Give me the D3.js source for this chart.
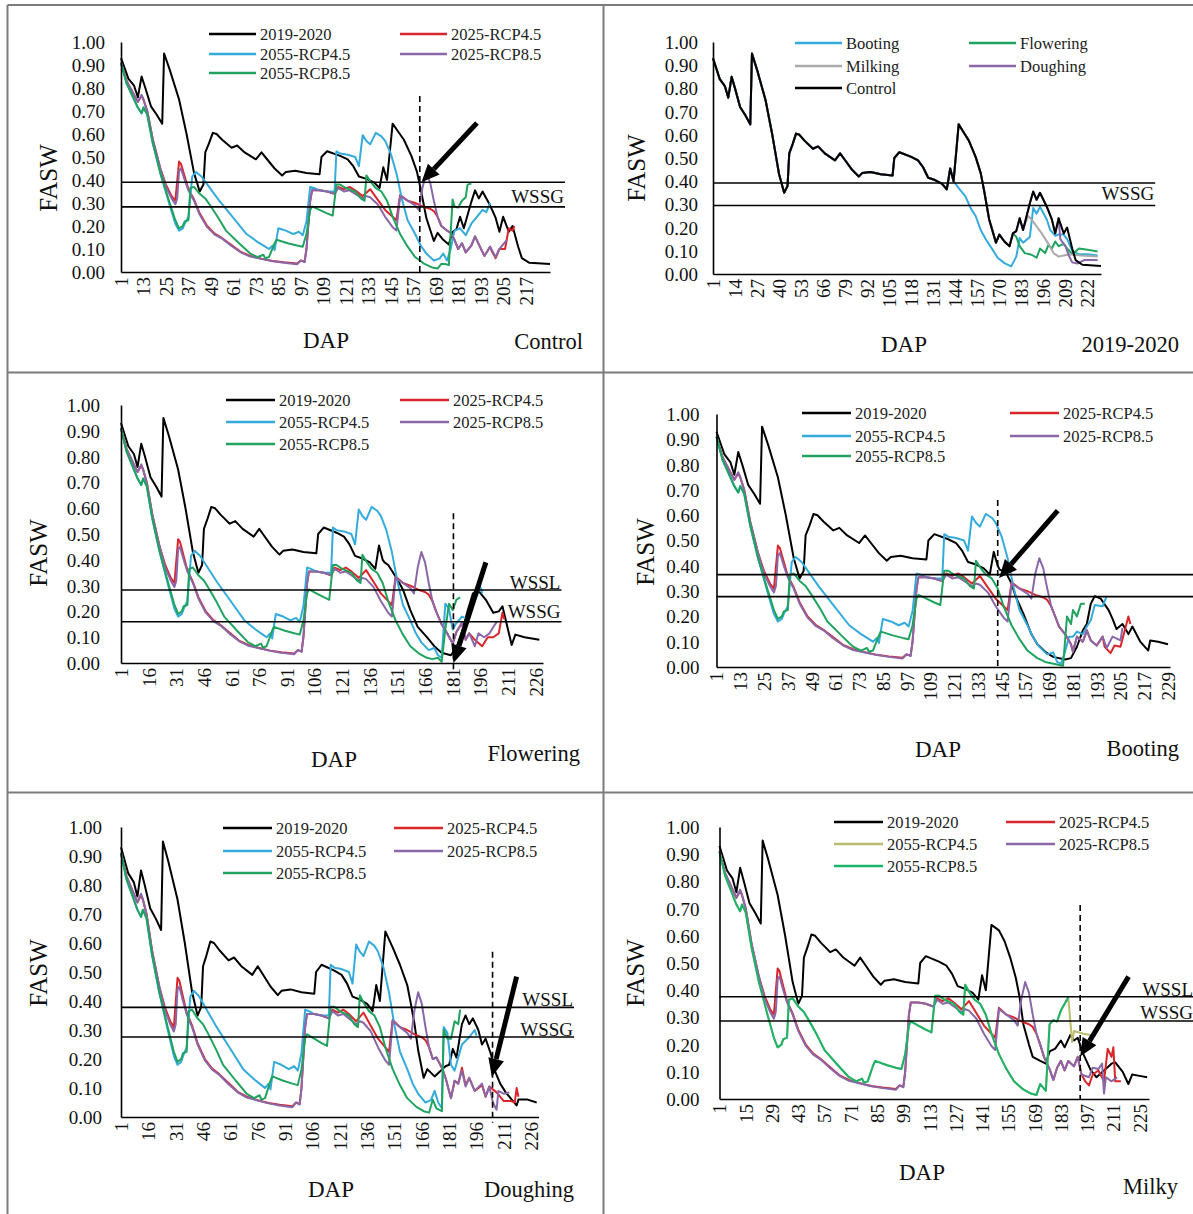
<!DOCTYPE html>
<html>
<head>
<meta charset="utf-8">
<script src="https://cdn.jsdelivr.net/npm/d3@7"></script>
<style>
  html, body { margin: 0; padding: 0; background: #fff; }
  svg { display: block; font-family: "Liberation Serif", "Times New Roman", serif; }
</style>
</head>
<body>
<svg id="chart" width="1193" height="1214"></svg>
<script>
// ---------- tick labels ----------
const yTicks = [0, 0.1, 0.2, 0.3, 0.4, 0.5, 0.6, 0.7, 0.8, 0.9, 1.0];
const ticksControl = [1, 13, 25, 37, 49, 61, 73, 85, 97, 109, 121, 133, 145, 157, 169, 181, 193, 205, 217];
const ticks2019 = [1, 14, 27, 40, 53, 66, 79, 92, 105, 118, 131, 144, 157, 170, 183, 196, 209, 222];
const ticksFlower = [1, 16, 31, 46, 61, 76, 91, 106, 121, 136, 151, 166, 181, 196, 211, 226];
const ticksBoot = [1, 13, 25, 37, 49, 61, 73, 85, 97, 109, 121, 133, 145, 157, 169, 181, 193, 205, 217, 229];
const ticksDough = [1, 16, 31, 46, 61, 76, 91, 106, 121, 136, 151, 166, 181, 196, 211, 226];
const ticksMilky = [1, 15, 29, 43, 57, 71, 85, 99, 113, 127, 141, 155, 169, 183, 197, 211, 225];

// ---------- FASW series, [DAP, value] ----------
// 2019-2020 (control), common part
const ctlHead = [[1,.93],[5,.84],[8,.81],[10,.76],[12,.85],[14,.80],[17,.72],[20,.685],[23,.645],[24,.95],[27,.88],[32,.75],[36,.60],[40,.43],[43,.35],[45,.38],[46,.52],[48,.56],[50,.605],[52,.60],[55,.575],[60,.54],[63,.55],[67,.52],[73,.49],[76,.52],[78,.50],[83,.45],[87,.42],[89,.435],[94,.44],[100,.43],[107,.425],[108,.50],[111,.525],[118,.505],[122,.49],[125,.46],[128,.415],[132,.405],[136,.39],[139,.365],[141,.455],[143,.40]];
const ctlTailControl = [[146,.645],[149,.61],[152,.575],[156,.505],[159,.435],[161,.36],[164,.235],[167,.16],[168,.135],[170,.17],[173,.14],[176,.12],[178,.175],[180,.185],[182,.24],[184,.19],[188,.305],[190,.355],[192,.32],[194,.35],[198,.29],[201,.235],[203,.175],[205,.24],[208,.175],[210,.20],[213,.11],[215,.06],[219,.04],[230,.035]];
const ctlTailFlower = [[144,.39],[146,.38],[150,.335],[154,.285],[158,.205],[162,.14],[167,.10],[171,.065],[175,.04],[180,.03],[183,.06],[186,.12],[189,.20],[192,.27],[195,.28],[199,.245],[203,.195],[206,.20],[208,.22],[211,.13],[213,.07],[215,.11],[220,.10],[228,.09]];
const ctlTailBoot = [[144,.385],[147,.375],[150,.33],[152,.28],[156,.21],[160,.13],[163,.09],[167,.06],[171,.04],[177,.03],[180,.035],[183,.08],[186,.145],[188,.17],[190,.25],[192,.28],[195,.27],[199,.225],[201,.19],[203,.15],[206,.17],[209,.13],[211,.16],[215,.10],[219,.065],[220,.105],[224,.10],[229,.09]];
const ctlTailDough = [[146,.64],[150,.585],[154,.525],[158,.455],[160,.39],[162,.32],[164,.23],[167,.135],[169,.165],[173,.14],[179,.175],[181,.18],[183,.235],[185,.205],[188,.32],[190,.35],[192,.32],[194,.34],[197,.30],[199,.25],[201,.27],[204,.215],[206,.16],[209,.115],[212,.085],[216,.055],[218,.04],[219,.06],[224,.06],[229,.05]];
const ctlTailMilky = [[146,.64],[150,.62],[153,.58],[156,.52],[159,.445],[161,.375],[163,.275],[166,.20],[168,.155],[172,.14],[175,.13],[177,.175],[180,.185],[183,.215],[185,.19],[188,.235],[190,.215],[192,.225],[195,.165],[199,.105],[202,.08],[206,.105],[210,.13],[212,.135],[216,.10],[219,.055],[221,.09],[225,.085],[229,.08]];

// 2025-RCP4.5
const r45Head = [[1,.91],[4,.83],[8,.77],[10,.74],[12,.765],[13,.75],[15,.70],[18,.575],[22,.45],[25,.38],[28,.33],[30,.31],[32,.48],[33,.47],[35,.415],[37,.36],[40,.315],[43,.255],[47,.20],[51,.167],[55,.147],[60,.117],[65,.087],[70,.07],[76,.058],[82,.048],[88,.042],[95,.037],[97,.05],[99,.045],[100,.10],[102,.31],[103,.355],[107,.355],[111,.35],[115,.34],[117,.37],[120,.36],[123,.37],[126,.355],[130,.33],[132,.345],[134,.36],[138,.315],[142,.27],[146,.24],[148,.225],[150,.335],[154,.31],[158,.30],[162,.285],[166,.275],[168,.265],[170,.24],[172,.20]];
const r45TailControl = [[199,.09],[201,.06],[203,.10],[206,.10],[208,.19],[210,.18],[211,.20]];
const r45TailFlower = [[193,.09],[197,.065],[200,.10],[203,.10],[206,.115],[208,.195],[209,.17]];
const r45TailBoot = [[197,.08],[200,.055],[202,.085],[205,.08],[208,.17],[209,.20],[210,.17]];
const r45TailDough = [[188,.17],[190,.11],[192,.135],[195,.09],[199,.11],[201,.07],[203,.105],[207,.085],[211,.055],[215,.055],[217,.05],[218,.10],[219,.07]];
const r45TailMilky = [[196,.065],[198,.05],[200,.09],[203,.105],[206,.065],[208,.185],[210,.155],[211,.19],[212,.065],[215,.065]];

// 2025-RCP8.5
const r85Head = [[1,.91],[4,.83],[8,.77],[10,.74],[12,.77],[13,.75],[15,.70],[18,.575],[22,.45],[25,.37],[28,.32],[30,.295],[31,.32],[32,.44],[33,.45],[35,.40],[37,.355],[40,.31],[43,.25],[47,.195],[51,.163],[55,.145],[60,.113],[65,.085],[70,.067],[76,.057],[82,.047],[88,.04],[95,.034],[97,.05],[99,.043],[100,.10],[102,.31],[103,.355],[107,.355],[111,.35],[115,.34],[117,.365],[120,.35],[123,.355],[126,.34],[130,.32],[132,.33],[134,.325],[138,.295],[142,.24],[146,.195],[148,.18],[150,.33],[154,.31],[158,.29],[160,.27],[162,.37],[164,.43],[166,.39],[168,.31],[170,.24],[172,.20]];
const r85TailControl = [[175,.18],[177,.17],[179,.14],[181,.10],[183,.125],[185,.085],[188,.115],[190,.155],[192,.12],[195,.07],[198,.11],[201,.065],[203,.10],[206,.13],[207,.14]];
const r85TailFlower = [[175,.15],[178,.115],[181,.075],[183,.12],[186,.155],[188,.09],[190,.115],[193,.065],[195,.115],[198,.10],[201,.115],[203,.14],[205,.16]];
const r85TailBoot = [[174,.16],[177,.13],[180,.09],[181,.06],[183,.12],[186,.10],[188,.145],[190,.105],[193,.085],[196,.12],[198,.075],[201,.12],[205,.105],[206,.155]];
const r85TailDough = [[174,.205],[177,.17],[179,.135],[182,.065],[184,.125],[186,.115],[188,.16],[190,.105],[192,.135],[195,.09],[199,.115],[201,.07],[203,.105],[205,.05],[207,.025],[208,.09],[211,.08],[214,.085]];
const r85TailMilky = [[174,.155],[177,.11],[179,.07],[181,.115],[183,.14],[185,.105],[187,.14],[190,.12],[192,.155],[194,.09],[198,.08],[200,.115],[203,.11],[205,.13],[206,.02],[207,.08],[210,.065],[213,.08]];

// 2055-RCP4.5
const c45Head = [[1,.91],[4,.82],[8,.75],[10,.715],[12,.69],[13,.715],[15,.685],[18,.56],[22,.43],[27,.29],[30,.21],[32,.18],[34,.19],[35,.21],[37,.24],[39,.415],[41,.435],[44,.415],[48,.37],[53,.315],[60,.245],[68,.165],[74,.13],[78,.11],[80,.10],[82,.115],[83,.095],[85,.19],[89,.18],[93,.165],[96,.175],[98,.16],[100,.22],[102,.37],[104,.365],[107,.355],[111,.35],[115,.35],[116,.525],[118,.515],[122,.51],[126,.50],[128,.46],[130,.595],[132,.57],[134,.555],[137,.605],[140,.59],[142,.57],[145,.515],[148,.43],[151,.315],[154,.225],[158,.165],[161,.115],[164,.08],[168,.05],[171,.058]];
const c45TailControl = [[173,.08],[175,.05],[177,.10],[179,.18],[182,.19],[185,.16],[188,.21],[191,.24],[194,.27],[196,.26],[198,.30]];
const c45TailFlower = [[173,.03],[175,.02],[177,.23],[179,.21],[181,.13],[183,.155],[186,.18],[189,.17],[192,.22],[194,.26],[196,.295],[197,.27]];
const c45TailBoot = [[173,.02],[175,.013],[177,.06],[179,.12],[181,.12],[183,.14],[186,.13],[188,.16],[190,.185],[192,.245],[196,.24],[198,.28]];
const c45TailDough = [[173,.09],[175,.05],[177,.03],[178,.31],[180,.29],[182,.18],[184,.16],[186,.205],[188,.25],[192,.275],[195,.30],[196,.28]];
const c45TailMilky = [[187,.37],[188,.29],[189,.21],[190,.25],[195,.24],[199,.235]];

// 2055-RCP8.5
const c85Head = [[1,.91],[4,.82],[8,.75],[10,.715],[12,.69],[13,.715],[15,.685],[18,.56],[22,.43],[27,.30],[30,.225],[32,.19],[34,.20],[35,.22],[37,.225],[38,.365],[40,.37],[43,.34],[46,.32],[49,.285],[53,.235],[57,.18],[64,.125],[70,.08],[74,.065],[77,.075],[78,.06],[80,.065],[83,.125],[84,.14],[90,.125],[95,.115],[98,.11],[100,.165],[102,.27],[103,.285],[107,.27],[111,.255],[114,.245],[116,.38],[118,.38],[121,.365],[126,.35],[129,.32],[131,.31],[132,.42],[134,.395],[137,.365],[140,.35],[143,.31],[146,.24],[150,.165],[154,.11],[158,.065],[163,.035],[167,.02],[170,.015]];
const c85TailControl = [[172,.035],[174,.035],[176,.03],[178,.315],[179,.285],[181,.28],[183,.31],[185,.325],[186,.38],[188,.385]];
const c85TailFlower = [[173,.02],[175,.005],[177,.13],[179,.23],[181,.205],[183,.245],[185,.255]];
const c85TailBoot = [[173,.01],[176,.005],[178,.20],[180,.17],[181,.225],[183,.20],[185,.25],[187,.25]];
const c85TailDough = [[172,.06],[174,.03],[177,.02],[178,.30],[180,.27],[182,.27],[184,.33],[186,.32],[187,.37]];
const c85TailMilky = [[172,.055],[175,.03],[177,.275],[179,.29],[181,.285],[183,.325],[185,.35],[187,.375]];

// 2019-2020 panel: stress at each stage
const bootTail = [[146,.37],[150,.335],[153,.285],[156,.25],[159,.19],[162,.15],[166,.105],[169,.07],[173,.047],[177,.033],[180,.075],[182,.155],[184,.135],[188,.16],[190,.285],[192,.26],[194,.29],[198,.235],[200,.19],[203,.165],[205,.17],[208,.17],[210,.15],[213,.10],[217,.085],[222,.085],[228,.08]];
const flowerTail = [[180,.16],[182,.12],[185,.09],[189,.083],[192,.07],[194,.11],[197,.09],[199,.125],[201,.11],[203,.14],[205,.12],[208,.13],[210,.11],[213,.085],[217,.11],[222,.105],[228,.097]];
const milkTail = [[187,.25],[189,.235],[192,.205],[195,.175],[199,.13],[202,.09],[205,.075],[208,.08],[212,.085],[218,.08],[228,.075]];
const doughTail = [[206,.15],[209,.12],[211,.08],[213,.05],[216,.045],[220,.06],[228,.06]];

// a series follows its base until the first DAP of its own tail
function splice(base, tail) {
  return base.filter(d => d[0] < tail[0][0]).concat(tail);
}

const C = {
  black: '#000000', red: '#d8262b', cyan: '#35abdc', purple: '#8a67a8',
  green: '#20a35e', gray: '#ababab', olive: '#b9bc6c', green2: '#1cb46c'
};

function scenarioSeries(ctlTail, r45T, r85T, c45T, c85T, milky) {
  const r85 = splice(r85Head, r85T);
  const c85 = splice(c85Head, c85T);
  return [
    { name: '2019-2020', color: C.black, data: splice(ctlHead, ctlTail) },
    { name: '2025-RCP4.5', color: C.red, data: splice(splice(r45Head, r85T), r45T) },
    { name: '2055-RCP4.5', color: milky ? C.olive : C.cyan, data: milky ? splice(c85, c45T) : splice(c45Head, c45T) },
    { name: '2025-RCP8.5', color: C.purple, data: r85 },
    { name: '2055-RCP8.5', color: milky ? C.green2 : C.green, data: c85 }
  ];
}

const ctlFull = splice(ctlHead, ctlTailControl);

const panels = [
  { series: scenarioSeries(ctlTailControl, r45TailControl, r85TailControl, c45TailControl, c85TailControl),
    xr: [121, 550], yr: [272, 42], ticks: ticksControl, yGap: 16,
    refs: [.39, .283], refEnd: 238, refLabels: [['WSSG', .283, 4]],
    stage: { dap: 160.5, top: .765, bottom: 0, from: [191, .648], to: [161.4, .39] },
    legend: { cols: [209, 400], rows: [34, 54, 73], len: 47 },
    title: ['Control', 583, 349], dap: [326, 348], fasw: [48, 178] },
  { series: [
      { name: 'Booting', color: C.cyan, data: splice(ctlHead, bootTail) },
      { name: 'Flowering', color: C.green, data: splice(ctlFull, flowerTail) },
      { name: 'Milking', color: C.gray, data: splice(ctlFull, milkTail) },
      { name: 'Doughing', color: C.purple, data: splice(ctlFull, doughTail) },
      { name: 'Control', color: C.black, data: ctlFull }
    ],
    xr: [713, 1101], yr: [274, 42], ticks: ticks2019, yGap: 15,
    refs: [.392, .295], refEnd: 262, refLabels: [['WSSG', .295, 6]],
    stage: null,
    legend: { cols: [795, 969], rows: [43, 66, 88], len: 47 },
    title: ['2019-2020', 1179, 352], dap: [904, 352], fasw: [636, 168] },
  { series: scenarioSeries(ctlTailFlower, r45TailFlower, r85TailFlower, c45TailFlower, c85TailFlower),
    xr: [121, 543], yr: [663, 405], ticks: ticksFlower, yGap: 21,
    refs: [.283, .16], refEnd: 240, refLabels: [['WSSL', .283, 1], ['WSSG', .16, 4]],
    stage: { dap: 181.4, top: .58, bottom: -.035, from: [199, .39], to: [181.4, .0] },
    legend: { cols: [226, 400], rows: [400, 422, 444], len: 49 },
    title: ['Flowering', 580, 761], dap: [334, 767], fasw: [38, 553] },
  { series: scenarioSeries(ctlTailBoot, r45TailBoot, r85TailBoot, c45TailBoot, c85TailBoot),
    xr: [716.5, 1170], yr: [667, 414], ticks: ticksBoot, yGap: 17,
    refs: [.365, .278], refEnd: 243, refLabels: [],
    stage: { dap: 143, top: .66, bottom: 0, from: [173.3, .618], to: [143.7, .352] },
    legend: { cols: [802, 1010], rows: [413, 436, 456], len: 49 },
    title: ['Booting', 1179, 756], dap: [938, 757], fasw: [645, 552] },
  { series: scenarioSeries(ctlTailDough, r45TailDough, r85TailDough, c45TailDough, c85TailDough),
    xr: [121, 538.5], yr: [1117, 827], ticks: ticksDough, yGap: 19,
    refs: [.378, .276], refEnd: 249.5, refLabels: [['WSSL', .378, 1], ['WSSG', .276, 1]],
    stage: { dap: 204.8, top: .57, bottom: -.02, from: [218, .484], to: [204.4, .139] },
    legend: { cols: [223, 394], rows: [828, 851, 873], len: 49 },
    title: ['Doughing', 574, 1197], dap: [331, 1197], fasw: [38, 973] },
  { series: scenarioSeries(ctlTailMilky, r45TailMilky, r85TailMilky, c45TailMilky, c85TailMilky, true),
    xr: [719.5, 1149], yr: [1099, 827], ticks: ticksMilky, yGap: 20,
    refs: [.376, .287], refEnd: 254, refLabels: [['WSSL', .376, 1], ['WSSG', .287, 2]],
    stage: { dap: 193.3, top: .713, bottom: 0, from: [219.1, .45], to: [193.3, .156] },
    legend: { cols: [834, 1006], rows: [822, 844, 866], len: 49 },
    title: ['Milky', 1178, 1194], dap: [922, 1180], fasw: [635, 973] }
];

const svg = d3.select('#chart');

// panel frame
const frame = svg.append('g').attr('stroke', '#7c7c7c').attr('stroke-width', 2);
frame.append('line').attr('x1', 7.5).attr('x2', 7.5).attr('y1', 5).attr('y2', 1214);
frame.append('line').attr('x1', 603.5).attr('x2', 603.5).attr('y1', 5).attr('y2', 1214);
[5, 372.5, 792.5].forEach(yy => {
  frame.append('line').attr('x1', 7.5).attr('x2', 1193).attr('y1', yy).attr('y2', yy);
});

panels.forEach(drawPanel);

function drawPanel(p) {
  const g = svg.append('g');
  const x = d3.scaleLinear().domain([1, 230]).range(p.xr);
  const y = d3.scaleLinear().domain([0, 1]).range(p.yr);

  const line = d3.line().x(d => x(d[0])).y(d => y(d[1]));

  // series
  p.series.forEach(s => {
    g.append('path')
      .datum(s.data)
      .attr('fill', 'none')
      .attr('stroke', s.color)
      .attr('stroke-width', 2)
      .attr('stroke-linejoin', 'round')
      .attr('d', line);
  });

  // water stress thresholds
  p.refs.forEach(v => {
    g.append('line')
      .attr('x1', x(1)).attr('x2', x(p.refEnd))
      .attr('y1', y(v)).attr('y2', y(v))
      .attr('stroke', '#000').attr('stroke-width', 1.6);
  });
  p.refLabels.forEach(([t, v, off]) => {
    g.append('text')
      .attr('x', x(p.refEnd) - 1).attr('y', y(v) - off)
      .attr('text-anchor', 'end').attr('font-size', 19).attr('fill', '#111')
      .text(t);
  });

  // axes
  const xAxis = g.append('g')
    .attr('transform', `translate(0,${y(0)})`)
    .call(d3.axisBottom(x).tickValues(p.ticks).tickSize(0).tickSizeOuter(0).tickFormat(d3.format('d')));
  xAxis.attr('font-size', 19).attr('font-family', null);
  xAxis.select('.domain').attr('stroke', '#000').attr('stroke-width', 1.6);
  xAxis.selectAll('text')
    .attr('transform', 'rotate(-90)')
    .attr('x', -5).attr('y', 0).attr('dy', '0.34em')
    .attr('text-anchor', 'end').attr('fill', '#111');

  const yAxis = g.append('g')
    .attr('transform', `translate(${x(1)},0)`)
    .call(d3.axisLeft(y).tickValues(yTicks).tickSize(0).tickSizeOuter(0).tickPadding(p.yGap).tickFormat(d3.format('.2f')));
  yAxis.attr('font-size', 19).attr('font-family', null);
  yAxis.select('.domain').attr('stroke', '#000').attr('stroke-width', 1.6);
  yAxis.selectAll('text').attr('fill', '#111').attr('dy', '0.34em');

  // stage marker and arrow
  if (p.stage) {
    const st = p.stage;
    g.append('line')
      .attr('x1', x(st.dap)).attr('x2', x(st.dap))
      .attr('y1', y(st.top)).attr('y2', y(st.bottom))
      .attr('stroke', '#000').attr('stroke-width', 1.6)
      .attr('stroke-dasharray', '6,4');

    const x1 = x(st.from[0]), y1 = y(st.from[1]);
    const x2 = x(st.to[0]), y2 = y(st.to[1]);
    const a = Math.atan2(y2 - y1, x2 - x1);
    const headLen = 18, headW = 8;
    const bx = x2 - headLen * Math.cos(a), by = y2 - headLen * Math.sin(a);
    g.append('line')
      .attr('x1', x1).attr('y1', y1).attr('x2', bx).attr('y2', by)
      .attr('stroke', '#000').attr('stroke-width', 5);
    g.append('path')
      .attr('d', `M${x2},${y2}L${bx - headW * Math.sin(a)},${by + headW * Math.cos(a)}L${bx + headW * Math.sin(a)},${by - headW * Math.cos(a)}Z`)
      .attr('fill', '#000');
  }

  // legend
  p.series.forEach((s, i) => {
    const lx = p.legend.cols[i % 2];
    const ly = p.legend.rows[Math.floor(i / 2)];
    g.append('line')
      .attr('x1', lx).attr('x2', lx + p.legend.len)
      .attr('y1', ly).attr('y2', ly)
      .attr('stroke', s.color).attr('stroke-width', 2.5);
    g.append('text')
      .attr('x', lx + p.legend.len + 4).attr('y', ly).attr('dy', '0.34em')
      .attr('font-size', 16.5).attr('fill', '#222')
      .text(s.name);
  });

  // labels
  g.append('text')
    .attr('x', p.title[1]).attr('y', p.title[2])
    .attr('text-anchor', 'end').attr('font-size', 22.5).attr('fill', '#111')
    .text(p.title[0]);
  g.append('text')
    .attr('x', p.dap[0]).attr('y', p.dap[1])
    .attr('text-anchor', 'middle').attr('font-size', 23).attr('fill', '#111')
    .text('DAP');
  g.append('text')
    .attr('transform', `translate(${p.fasw[0]},${p.fasw[1]}) rotate(-90)`)
    .attr('text-anchor', 'middle').attr('dy', '0.34em')
    .attr('font-size', 25).attr('fill', '#111')
    .text('FASW');
}
</script>
</body>
</html>
